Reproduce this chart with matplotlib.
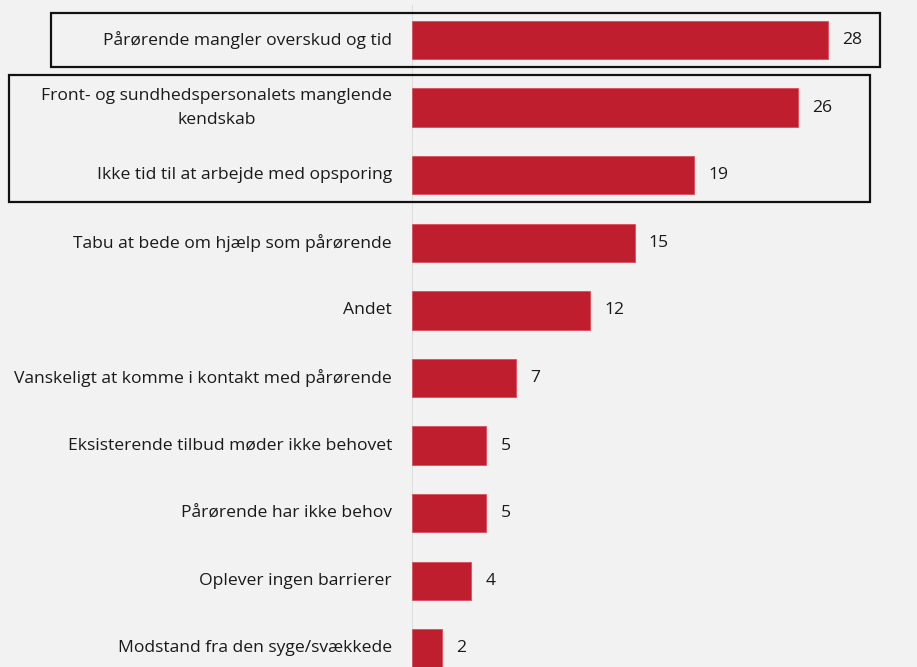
import matplotlib.pyplot as plt
from matplotlib.patches import Rectangle

categories = [
    "Pårørende mangler overskud og tid",
    "Front- og sundhedspersonalets manglende\nkendskab",
    "Ikke tid til at arbejde med opsporing",
    "Tabu at bede om hjælp som pårørende",
    "Andet",
    "Vanskeligt at komme i kontakt med pårørende",
    "Eksisterende tilbud møder ikke behovet",
    "Pårørende har ikke behov",
    "Oplever ingen barrierer",
    "Modstand fra den syge/svækkede",
]
values = [28, 26, 19, 15, 12, 7, 5, 5, 4, 2]

bar_color = "#BE1E2D"
bg = "#F2F2F2"
fs = 12.6

plt.rcParams['font.family'] = ['Open Sans', 'DejaVu Sans']

fig = plt.figure(figsize=(9.17, 6.67), dpi=100, facecolor=bg)
ax = fig.add_axes([412 / 917, 0, 1 - 412 / 917, 1 - 5 / 667])
ax.set_facecolor(bg)

ypos = list(range(len(values)))
ax.barh(ypos, values, height=0.57, color=bar_color, edgecolor="#D9505C", linewidth=0.6, zorder=3)

for y, v in zip(ypos, values):
    ax.text(v + 0.95, y, str(v), va="center", ha="left", fontsize=fs, color="#1A1A1A")

for y, lab in zip(ypos, categories):
    ax.text(-1.35, y, lab, va="center", ha="right", multialignment="center",
            fontsize=fs, color="#1A1A1A", linespacing=1.65)

ax.set_xlim(0, (917 - 412) / 14.85)
ax.set_ylim(9.275, -0.518)
ax.axvline(0, color="#D9D9D9", linewidth=1.2, zorder=1)

for s in ax.spines.values():
    s.set_visible(False)
ax.set_xticks([])
ax.set_yticks([])

# frames around the highlighted rows
W, H = 917, 667
boxes = [(51, 13, 880, 67), (9, 75, 870, 202)]
for x0, y0, x1, y1 in boxes:
    fig.add_artist(Rectangle((x0 / W, 1 - y1 / H), (x1 - x0) / W, (y1 - y0) / H,
                             transform=fig.transFigure, fill=False,
                             edgecolor="#111111", linewidth=1.6, zorder=5))

fig.savefig("out.png", dpi=100, facecolor=bg)
